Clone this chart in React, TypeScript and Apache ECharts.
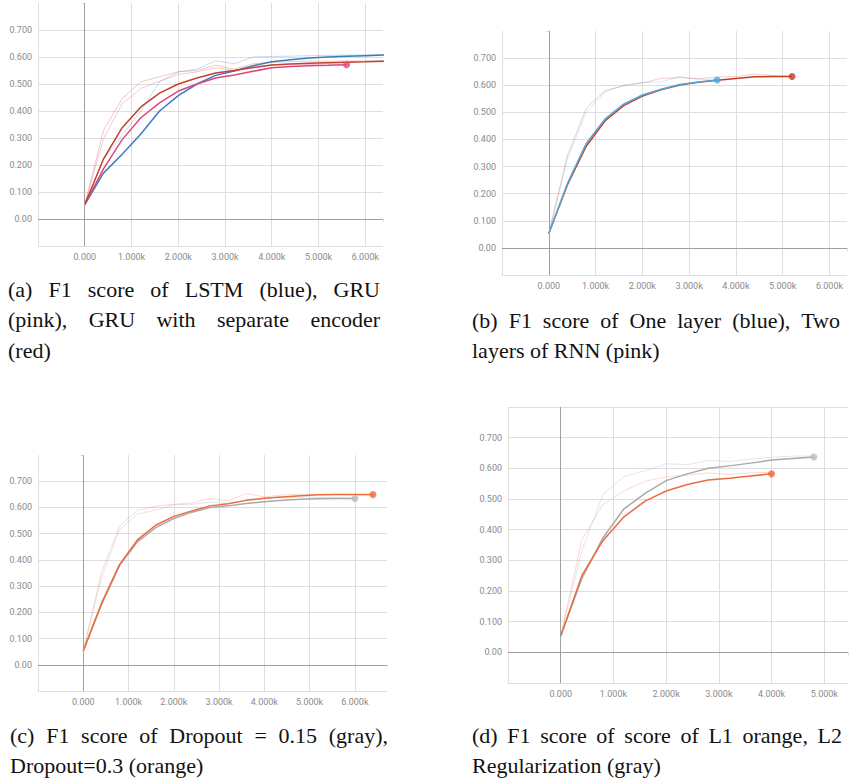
import React, { useEffect, useRef } from "react";
import * as echarts from "echarts";

const STEPS = [0, 400, 800, 1200, 1600, 2000, 2400, 2800, 3200, 3600, 4000, 4400, 4800, 5200, 5600, 6000, 6400];
const X_TICK_LABELS = ["0.000", "1.000k", "2.000k", "3.000k", "4.000k", "5.000k", "6.000k"];
const Y_TICK_LABELS = ["0.00", "0.100", "0.200", "0.300", "0.400", "0.500", "0.600", "0.700"];

// (a) LSTM / GRU / GRU separate encoder
const A_LSTM = [0.053, 0.170, 0.240, 0.315, 0.400, 0.457, 0.500, 0.532, 0.548, 0.568, 0.582, 0.590, 0.596, 0.600, 0.603, 0.605, 0.607];
const A_GRU = [0.053, 0.186, 0.294, 0.375, 0.430, 0.474, 0.500, 0.522, 0.533, 0.547, 0.560, 0.565, 0.568, 0.569, 0.571];
const A_GRU_SEP = [0.053, 0.222, 0.338, 0.415, 0.466, 0.500, 0.522, 0.541, 0.550, 0.561, 0.570, 0.574, 0.577, 0.579, 0.581, 0.582, 0.584];
const A_LSTM_RAW = [0.053, 0.22, 0.31, 0.40, 0.508, 0.545, 0.555, 0.586, 0.575, 0.600, 0.602, 0.603, 0.605, 0.606, 0.607, 0.608, 0.609];
const A_GRU_RAW = [0.053, 0.297, 0.427, 0.483, 0.51, 0.535, 0.545, 0.56, 0.55, 0.565, 0.57, 0.575, 0.572, 0.574, 0.573];
const A_GRU_SEP_RAW = [0.053, 0.328, 0.446, 0.508, 0.527, 0.545, 0.55, 0.57, 0.555, 0.575, 0.58, 0.583, 0.585, 0.584, 0.586, 0.585, 0.586];

// (b) one layer / two layers
const B_ONE = [0.053, 0.238, 0.385, 0.475, 0.530, 0.564, 0.585, 0.603, 0.612, 0.619];
const B_TWO = [0.053, 0.233, 0.375, 0.468, 0.525, 0.560, 0.583, 0.601, 0.611, 0.618, 0.625, 0.631, 0.632, 0.632];
const B_ONE_RAW = [0.053, 0.33, 0.50, 0.575, 0.60, 0.61, 0.612, 0.632, 0.622, 0.62];
const B_TWO_RAW = [0.053, 0.342, 0.515, 0.58, 0.598, 0.608, 0.625, 0.628, 0.624, 0.63, 0.632, 0.641, 0.635, 0.632];

// (c) dropout 0.15 (gray) / 0.3 (orange)
const C_GRAY = [0.053, 0.228, 0.378, 0.470, 0.523, 0.558, 0.582, 0.600, 0.606, 0.615, 0.622, 0.627, 0.631, 0.633, 0.634, 0.634];
const C_ORANGE = [0.053, 0.233, 0.382, 0.477, 0.532, 0.566, 0.587, 0.606, 0.614, 0.627, 0.635, 0.640, 0.645, 0.648, 0.649, 0.649, 0.649];
const C_GRAY_RAW = [0.053, 0.33, 0.515, 0.575, 0.59, 0.61, 0.612, 0.62, 0.615, 0.63, 0.635, 0.64, 0.64, 0.638, 0.637, 0.635];
const C_ORANGE_RAW = [0.053, 0.35, 0.528, 0.589, 0.605, 0.612, 0.617, 0.634, 0.625, 0.653, 0.64, 0.648, 0.65, 0.65, 0.65, 0.648, 0.649];

// (d) L1 (orange) / L2 (gray)
const D_ORANGE = [0.053, 0.25, 0.364, 0.442, 0.493, 0.526, 0.547, 0.562, 0.568, 0.575, 0.582];
const D_GRAY = [0.053, 0.24, 0.373, 0.468, 0.518, 0.560, 0.582, 0.600, 0.608, 0.617, 0.627, 0.632, 0.637];
const D_ORANGE_RAW = [0.053, 0.367, 0.482, 0.526, 0.558, 0.572, 0.578, 0.585, 0.58, 0.585, 0.587];
const D_GRAY_RAW = [0.053, 0.33, 0.515, 0.573, 0.592, 0.615, 0.612, 0.626, 0.622, 0.63, 0.636, 0.64, 0.64];

const CAPTIONS = [
  { text: "(a) F1 score of LSTM (blue), GRU", x0: 8, x1: 380, y: 289, justify: true },
  { text: "(pink), GRU with separate encoder", x0: 8, x1: 380, y: 319, justify: true },
  { text: "(red)", x0: 8, x1: 380, y: 350, justify: false },
  { text: "(b) F1 score of One layer (blue), Two", x0: 472, x1: 840, y: 320, justify: true },
  { text: "layers of RNN (pink)", x0: 472, x1: 840, y: 350, justify: false },
  { text: "(c) F1 score of Dropout = 0.15 (gray),", x0: 10, x1: 388, y: 735, justify: true },
  { text: "Dropout=0.3 (orange)", x0: 10, x1: 388, y: 765, justify: false },
  { text: "(d) F1 score of score of L1 orange, L2", x0: 472, x1: 842, y: 735, justify: true },
  { text: "Regularization (gray)", x0: 472, x1: 842, y: 765, justify: false },
];

const GRIDS = [
  { left: 38, top: 3, width: 345, height: 243, xMax: 6380, topLine: false },
  { left: 502, top: 31, width: 345, height: 244, xMax: 6375, topLine: false },
  { left: 38, top: 455, width: 349, height: 236, xMax: 6710, topLine: false },
  { left: 508, top: 407, width: 343, height: 276, xMax: 5450, topLine: true },
];

const FONT_SERIF = "Liberation Serif";
const FONT_SANS = "Roboto";

function pts(vals: number[]) {
  return vals.map((v, i) => [STEPS[i], v]);
}

function lineSeries(gi: number, vals: number[], color: string, width: number, opacity: number, z: number) {
  return {
    type: "line",
    xAxisIndex: gi,
    yAxisIndex: gi,
    data: pts(vals),
    symbol: "none",
    silent: true,
    z,
    lineStyle: { color, width, opacity },
  };
}

function zeroLines(gi: number) {
  return {
    type: "line",
    xAxisIndex: gi,
    yAxisIndex: gi,
    data: [],
    silent: true,
    z: 1,
    markLine: {
      silent: true,
      symbol: ["none", "none"],
      label: { show: false },
      animation: false,
      lineStyle: { color: "#a0a0a0", width: 1, type: "solid" },
      data: [{ xAxis: 0 }, { yAxis: 0 }],
    },
  };
}

function endDot(gi: number, vals: number[], color: string) {
  const n = vals.length - 1;
  return {
    type: "scatter",
    xAxisIndex: gi,
    yAxisIndex: gi,
    data: [[STEPS[n], vals[n]]],
    symbol: "circle",
    symbolSize: 7,
    silent: true,
    z: 5,
    itemStyle: { color },
  };
}

function measure(ctx: CanvasRenderingContext2D | null, s: string) {
  if (!ctx) return s.length * 9;
  return ctx.measureText(s).width;
}

export default function App() {
  const ref = useRef<HTMLDivElement>(null);
  useEffect(() => {
    if (!ref.current) return;
    const chart = echarts.init(ref.current, null, { renderer: "svg" });

    const canvas = document.createElement("canvas");
    const ctx = canvas.getContext("2d");
    if (ctx) ctx.font = "22px " + FONT_SERIF;

    const textStyle = (text: string) => ({
      text,
      fontFamily: FONT_SERIF,
      fontSize: 22,
      fill: "#111",
      align: "left",
      verticalAlign: "middle",
    });

    const graphics: any[] = [];
    CAPTIONS.forEach((c) => {
      if (!c.justify) {
        graphics.push({ type: "text", x: c.x0, y: c.y, silent: true, style: textStyle(c.text) });
        return;
      }
      const words = c.text.split(" ");
      const widths = words.map((w) => measure(ctx, w));
      const total = widths.reduce((a, b) => a + b, 0);
      const gap = (c.x1 - c.x0 - total) / (words.length - 1);
      let x = c.x0;
      words.forEach((w, i) => {
        graphics.push({ type: "text", x, y: c.y, silent: true, style: textStyle(w) });
        x += widths[i] + gap;
      });
    });

    const light = "#dedede";

    const grid = GRIDS.map((g) => ({ left: g.left, top: g.top, width: g.width, height: g.height, containLabel: false }));
    const xAxis = GRIDS.map((g, i) => ({
      type: "value",
      gridIndex: i,
      min: -1000,
      max: g.xMax,
      interval: 1000,
      axisLine: { show: true, lineStyle: { color: light, width: 1 } },
      axisTick: { show: true, length: 3, lineStyle: { color: light } },
      splitLine: { show: true, showMinLine: true, showMaxLine: false, lineStyle: { color: light, width: 1 } },
      axisLabel: {
        show: true,
        margin: 6,
        color: "#8a8a8a",
        fontSize: 9,
        fontFamily: FONT_SANS,
        formatter: (v: number) => {
          if (v < 0 || Math.abs(v % 1000) > 1e-6) return "";
          const k = Math.round(v / 1000);
          return X_TICK_LABELS[k] ?? "";
        },
      },
    }));
    const yAxis = GRIDS.map((g, i) => ({
      type: "value",
      gridIndex: i,
      min: -0.1,
      max: 0.8,
      interval: 0.1,
      axisLine: { show: true, lineStyle: { color: light, width: 1 } },
      axisTick: { show: true, length: 3, lineStyle: { color: light } },
      splitLine: { show: true, showMinLine: true, showMaxLine: g.topLine, lineStyle: { color: light, width: 1 } },
      axisLabel: {
        show: true,
        margin: 6,
        color: "#8a8a8a",
        fontSize: 9,
        fontFamily: FONT_SANS,
        formatter: (v: number) => {
          const k = Math.round(v * 10);
          if (k < 0 || k > 7) return "";
          return Y_TICK_LABELS[k];
        },
      },
    }));

    const BLUE = "#3a7cc0";
    const PINK = "#e0457b";
    const RED = "#c4402f";
    const SKY = "#4ea9dc";
    const RED_B = "#c63d22";
    const GRAY = "#aaaaaa";
    const ORANGE = "#ee6a3f";

    const series: any[] = [
      zeroLines(0),
      zeroLines(1),
      zeroLines(2),
      zeroLines(3),
      // (a)
      lineSeries(0, A_LSTM_RAW, BLUE, 1, 0.28, 2),
      lineSeries(0, A_GRU_RAW, PINK, 1, 0.3, 2),
      lineSeries(0, A_GRU_SEP_RAW, RED, 1, 0.28, 2),
      lineSeries(0, A_LSTM, BLUE, 1.5, 1, 3),
      lineSeries(0, A_GRU, PINK, 1.5, 1, 3),
      lineSeries(0, A_GRU_SEP, RED, 1.5, 1, 3),
      endDot(0, A_GRU, PINK),
      // (b)
      lineSeries(1, B_ONE_RAW, SKY, 1, 0.25, 2),
      lineSeries(1, B_TWO_RAW, RED_B, 1, 0.25, 2),
      lineSeries(1, B_TWO, RED_B, 1.5, 1, 3),
      lineSeries(1, B_ONE, SKY, 1.5, 1, 3),
      endDot(1, B_ONE, SKY),
      endDot(1, B_TWO, RED_B),
      // (c)
      lineSeries(2, C_GRAY_RAW, GRAY, 1, 0.3, 2),
      lineSeries(2, C_ORANGE_RAW, ORANGE, 1, 0.25, 2),
      lineSeries(2, C_GRAY, GRAY, 1.5, 1, 3),
      lineSeries(2, C_ORANGE, ORANGE, 1.5, 1, 3),
      endDot(2, C_GRAY, "#bbbbbb"),
      endDot(2, C_ORANGE, ORANGE),
      // (d)
      lineSeries(3, D_GRAY_RAW, GRAY, 1, 0.3, 2),
      lineSeries(3, D_ORANGE_RAW, ORANGE, 1, 0.25, 2),
      lineSeries(3, D_GRAY, GRAY, 1.5, 1, 3),
      lineSeries(3, D_ORANGE, ORANGE, 1.5, 1, 3),
      endDot(3, D_GRAY, "#bbbbbb"),
      endDot(3, D_ORANGE, ORANGE),
    ];

    chart.setOption({
      animation: false,
      backgroundColor: "#ffffff",
      grid,
      xAxis,
      yAxis,
      series,
      graphic: { elements: graphics },
    });

    return () => chart.dispose();
  }, []);

  return (
    <div
      ref={ref}
      style={{ position: "absolute", left: 0, top: 0, width: 851, height: 778, background: "#fff" }}
    />
  );
}
